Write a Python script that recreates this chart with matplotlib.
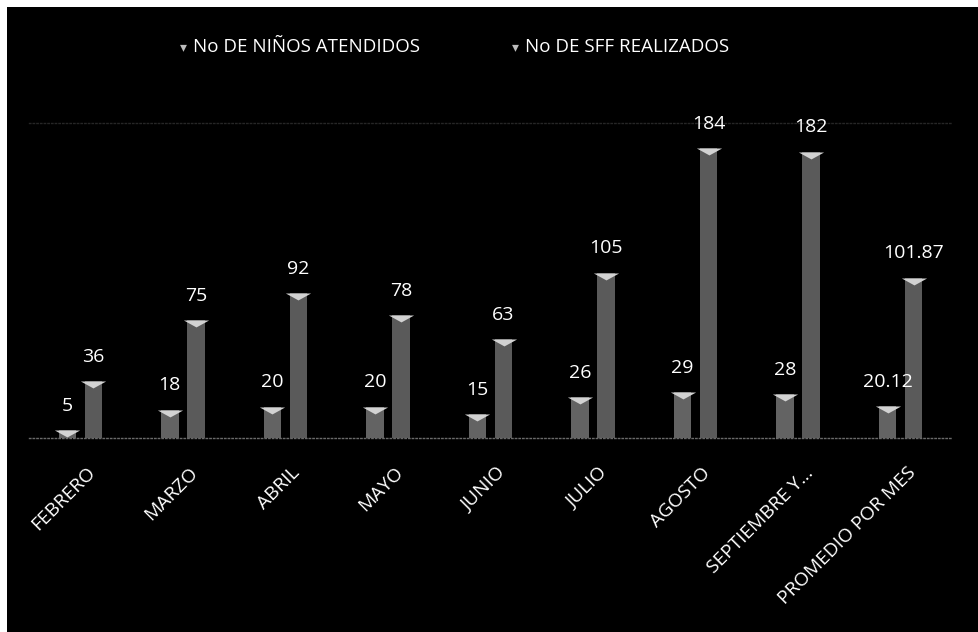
import matplotlib.pyplot as plt
import matplotlib.transforms as mtransforms
import numpy as np
from matplotlib.path import Path
from matplotlib.patches import Rectangle

meses = ["FEBRERO", "MARZO", "ABRIL", "MAYO", "JUNIO", "JULIO", "AGOSTO",
         "SEPTIEMBRE Y…", "PROMEDIO POR MES"]
ninos = [5, 18, 20, 20, 15, 26, 29, 28, 20.12]
sff = [36, 75, 92, 78, 63, 105, 184, 182, 101.87]
etiq_ninos = ["5", "18", "20", "20", "15", "26", "29", "28", "20.12"]
etiq_sff = ["36", "75", "92", "78", "63", "105", "184", "182", "101.87"]

plt.rcParams['font.family'] = ['Open Sans', 'DejaVu Sans']

fig = plt.figure(figsize=(9.79, 6.32), dpi=100, facecolor='white')
# fondo negro del grafico con margen blanco arriba e izquierda
fig.patches.append(Rectangle((7 / 979, 0), 1, 1 - 7 / 632, transform=fig.transFigure,
                             facecolor='black', edgecolor='none', zorder=-5))

ax = fig.add_axes([29 / 979, 194 / 632, 923 / 979, 0.498])
ax.set_facecolor('black')

x = np.arange(len(meses))
off = 0.127
w = 0.17

# marcador tipo cono para la tapa de cada columna
cap = Path([(-1, 0), (1, 0), (0, -0.55), (-1, 0)],
           [Path.MOVETO, Path.LINETO, Path.LINETO, Path.CLOSEPOLY])

ax.bar(x - off, ninos, w, color='#636363', edgecolor='none', zorder=2)
ax.bar(x + off, sff, w, color='#5a5a5a', edgecolor='none', zorder=2)
ax.scatter(x - off, ninos, marker=cap, s=330, color='#d2d2d2', zorder=3, linewidths=0)
ax.scatter(x + off, sff, marker=cap, s=330, color='#d2d2d2', zorder=3, linewidths=0)

for xs, vals, etiq in [(x - off, ninos, etiq_ninos), (x + off, sff, etiq_sff)]:
    for xi, v, t in zip(xs, vals, etiq):
        ax.annotate(t, (xi, v), xytext=(0, 11), textcoords='offset points',
                    ha='center', va='bottom', color='white', fontsize=14)

ax.set_ylim(0, 200)
ax.set_xlim(-0.5, len(meses) - 0.5)
ax.set_yticks([])
ax.set_xticks(x)
ax.set_xticklabels(meses, rotation=45, ha='right', va='center',
                   rotation_mode='anchor', color='white', fontsize=13.8)
ax.tick_params(axis='x', length=0, pad=0)
desplaza = mtransforms.ScaledTranslation(12 / 100, -32 / 100, fig.dpi_scale_trans)
for lab in ax.get_xticklabels():
    lab.set_transform(lab.get_transform() + desplaza)

for s in ['right', 'left']:
    ax.spines[s].set_visible(False)
ax.spines['bottom'].set_color('#6a6a6a')
ax.spines['bottom'].set_linestyle(':')
ax.spines['bottom'].set_linewidth(1)
ax.spines['top'].set_color('#262626')
ax.spines['top'].set_linestyle(':')
ax.spines['top'].set_linewidth(1)

# leyenda en la parte superior
for lx, txt in [(183, "No DE NIÑOS ATENDIDOS"), (515, "No DE SFF REALIZADOS")]:
    fig.text(lx / 979, 1 - 47 / 632, "▾", color='#bdbdbd', fontsize=10,
             ha='center', va='center', family=['DejaVu Sans'])
    fig.text((lx + 10) / 979, 1 - 47 / 632, txt, color='white', fontsize=13.5,
             ha='left', va='center')

fig.savefig('out.png', dpi=100, facecolor='white')
